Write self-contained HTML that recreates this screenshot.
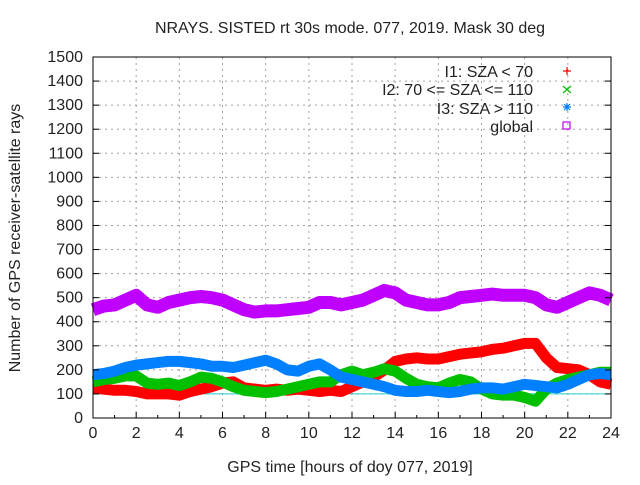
<!DOCTYPE html>
<html><head><meta charset="utf-8"><style>
body{margin:0;background:#fff}
svg text{font-family:"Liberation Sans",sans-serif;font-size:16px;fill:#222}
</style></head><body>
<svg id="chart" width="640" height="480" xmlns="http://www.w3.org/2000/svg">
<g id="grid"></g>
<g id="series"></g>
<g id="axes"></g>
<text x="350" y="33" text-anchor="middle">NRAYS. SISTED rt 30s mode. 077, 2019. Mask 30 deg</text>
<text x="350" y="472" text-anchor="middle">GPS time [hours of doy 077, 2019]</text>
<text transform="translate(20,238) rotate(-90)" text-anchor="middle">Number of GPS receiver-satellite rays</text>
<g>
<text x="533" y="77" text-anchor="end">I1: SZA &lt; 70</text>
<text x="533" y="95" text-anchor="end">I2: 70 &lt;= SZA &lt;= 110</text>
<text x="533" y="114" text-anchor="end">I3: SZA &gt; 110</text>
<text x="533" y="132" text-anchor="end">global</text>
<path d="M563 71h8M567 67v8" stroke="#ff0000" stroke-width="1.2"/>
<path d="M563 86l8 7M571 86l-8 7" stroke="#00c000" stroke-width="1.2"/>
<path d="M563 107h8M567 103v8M564 104l6 6M570 104l-6 6" stroke="#0080ff" stroke-width="1.2"/>
<rect x="563" y="122" width="7" height="7" fill="none" stroke="#c000ff" stroke-width="1.2"/>
</g>
</svg>
<script>
const hours=[0,0.5,1,1.5,2,2.5,3,3.5,4,4.5,5,5.5,6,6.5,7,7.5,8,8.5,9,9.5,10,10.5,11,11.5,12,12.5,13,13.5,14,14.5,15,15.5,16,16.5,17,17.5,18,18.5,19,19.5,20,20.5,21,21.5,22,22.5,23,23.5,24];
const globalVals=[450,465,470,490,510,470,460,480,490,500,505,500,490,470,450,440,445,445,450,455,460,480,480,470,480,490,510,530,520,490,480,470,470,480,500,505,510,515,510,510,510,500,470,460,480,500,520,510,490];
const i3Vals=[180,185,195,210,220,225,230,235,235,230,225,215,215,210,220,230,240,225,200,195,215,225,200,170,160,150,140,130,115,110,110,115,110,105,110,120,125,125,120,130,140,135,130,125,140,160,180,185,180];
const i2Vals=[150,160,165,175,175,145,140,145,135,150,170,165,150,130,115,110,105,110,120,130,140,150,150,180,195,180,190,205,195,165,140,130,125,145,160,150,120,100,95,95,85,70,120,145,160,170,180,190,190];
const i1Vals=[125,120,115,115,110,100,100,100,95,110,120,130,145,150,125,120,115,120,115,120,115,110,115,110,130,150,170,200,235,245,250,245,245,255,265,270,275,285,290,300,310,310,250,210,205,200,180,150,140];
const xTicks=[0,2,4,6,8,10,12,14,16,18,20,22,24];
const yTicks=[0,100,200,300,400,500,600,700,800,900,1000,1100,1200,1300,1400,1500];
const X0=93,X1=611,Y0=418,Y1=57;
const xs=h=>X0+(X1-X0)*h/24, ys=v=>Y0-(Y0-Y1)*v/1500;
const NS="http://www.w3.org/2000/svg";
function mk(t,p,a){const e=document.createElementNS(NS,t);for(const k in a)e.setAttribute(k,a[k]);p.appendChild(e);return e;}
const grid=document.getElementById('grid'),axes=document.getElementById('axes'),ser=document.getElementById('series');
yTicks.forEach(v=>{
 const y=ys(v);
 if(v>0&&v<1500){const g=mk('line',grid,{x1:X0,x2:X1,y1:y,y2:y,stroke:'#a0a0a0','stroke-dasharray':'2,4'});
 
 }
 const t=mk('line',axes,{x1:X0,x2:X0+6,y1:y,y2:y,stroke:'#000'});
 
 
 const t2=mk('line',axes,{x1:X1-6,x2:X1,y1:y,y2:y,stroke:'#000'});
 
 
 const l=mk('text',axes,{x:X0-10,y:y+5,'text-anchor':'end'});l.textContent=v;
 
 
});
for(let h=1;h<24;h+=2){const x=xs(h);
 const m=mk('line',axes,{x1:x,x2:x,y1:Y0,y2:Y0-3,stroke:'#000'});
 
 }
xTicks.forEach(h=>{
 const x=xs(h);
 if(h>0&&h<24){const g=mk('line',grid,{x1:x,x2:x,y1:Y1,y2:Y0,stroke:'#a0a0a0','stroke-dasharray':'2,4'});
 
 }
 const t=mk('line',axes,{x1:x,x2:x,y1:Y0,y2:Y0-6,stroke:'#000'});
 
 
 const l=mk('text',axes,{x:x,y:Y0+20,'text-anchor':'middle'});l.textContent=h;
 
 
});
const frame=mk('rect',axes,{x:X0,y:Y1,width:X1-X0,height:Y0-Y1,fill:'none',stroke:'#000'});


const ref=mk('line',ser,{x1:X0,x2:X1,y1:ys(100),y2:ys(100),stroke:'#20d0d0','stroke-width':1});


function band(vals,color,w,name){
 const pts=hours.map((h,i)=>xs(h).toFixed(1)+','+ys(vals[i]).toFixed(1)).join(' ');
 const p=mk('polyline',ser,{points:pts,fill:'none',stroke:color,'stroke-width':w,'stroke-linejoin':'round','stroke-linecap':'butt'});
 
 
}
band(globalVals,'#c000ff',13,'series-global');
band(i1Vals,'#ff0000',11,'series-i1');
band(i2Vals,'#00c000',11,'series-i2');
band(i3Vals,'#0080ff',11,'series-i3');
</script>
</body></html>
